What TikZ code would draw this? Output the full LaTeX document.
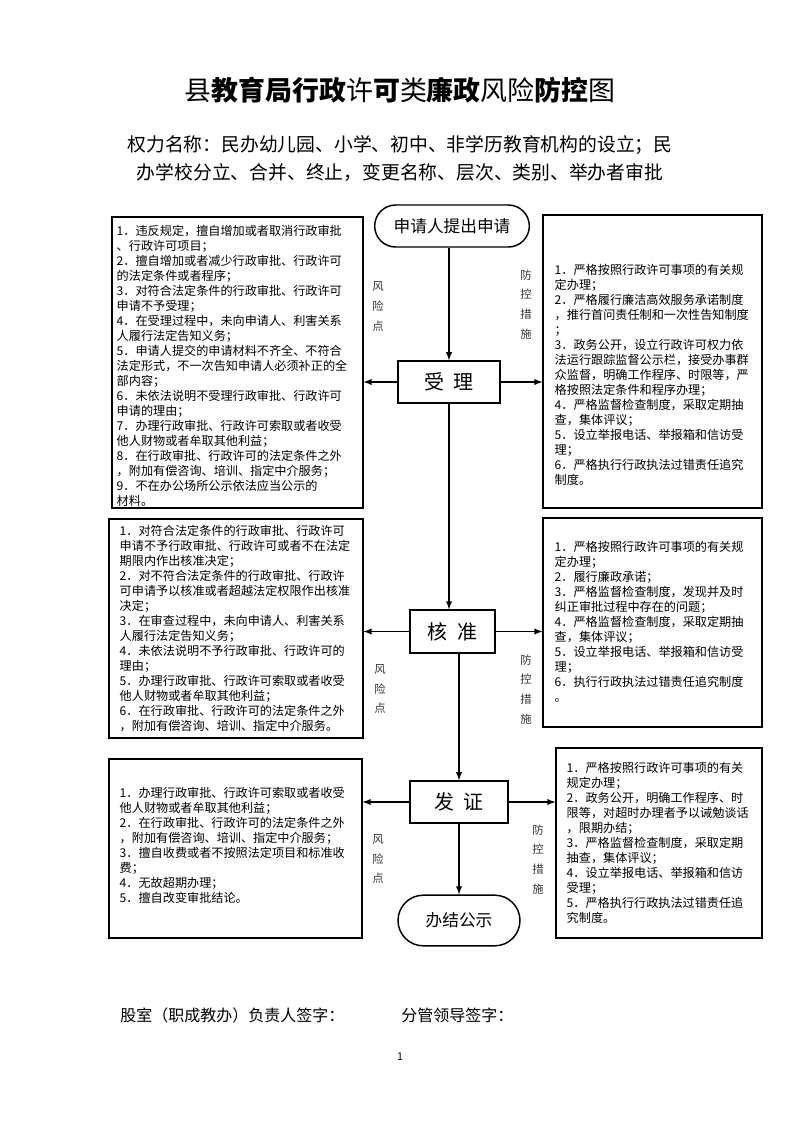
\documentclass[tikz,border=0pt]{standalone}
\usepackage{fontspec}
\setmainfont{Noto Sans CJK SC}
\usetikzlibrary{arrows,positioning,fit,shapes.misc}
\newcommand\tightlines{\lineskiplimit=-20pt\relax\lineskip=0pt\relax}

\begin{document}
\begin{tikzpicture}
		[x=0.75pt,y=-0.75pt,
		flow/.style={draw,line width=1.1pt,rectangle,inner sep=0pt,font=\fontsize{15pt}{18pt}\selectfont},
		ends/.style={draw,line width=1.1pt,rounded rectangle,inner sep=0pt,font=\fontsize{12.5pt}{15pt}\selectfont},
		itembox/.style={draw,line width=0.8pt,inner sep=0pt},
		items/.style={align=left,inner sep=0pt,anchor=west,
			font=\fontsize{9.1pt}{11.25pt}\selectfont\tightlines},
		side/.style={align=center,inner sep=0pt,text=black!80,
			font=\fontsize{8.5pt}{14.8pt}\selectfont\tightlines},
		arr/.style={-latex,line width=1.1pt}]
		\useasboundingbox (0,0) rectangle (800,1132);
		% title
		\node[font=\fontsize{20.2pt}{24pt}\selectfont] (title) at (400,90)
			{县\textbf{教育局行政}许\textbf{可}类\textbf{廉政}风险\textbf{防控}图};
		\node[align=center,font=\fontsize{14.1pt}{20.3pt}\selectfont\tightlines] (power) at (400,158.5)
			{权力名称：民办幼儿园、小学、初中、非学历教育机构的设立；民\\
			办学校分立、合并、终止，变更名称、层次、类别、举办者审批};
		% flow
		\node[ends,minimum width=116pt,minimum height=31.5pt] (apply) at (452,226) {申请人提出申请};
		\node[flow,minimum width=76.5pt,minimum height=31.5pt] (accept) at (449,382) {受\hspace{7pt}理};
		\node[flow,minimum width=64pt,minimum height=32pt] (check) at (452.5,631.5) {核\hspace{7pt}准};
		\node[flow,minimum width=73.5pt,minimum height=31.5pt] (issue) at (459,802) {发\hspace{7pt}证};
		\node[ends,minimum width=91.5pt,minimum height=38pt] (finish) at (459,920.5) {办结公示};
		% boxes
		\node[itembox,fit={(112,217) (363,508)}] (risk1) {};
		\node[itembox,fit={(543,215) (762,508)}] (measure1) {};
		\node[itembox,fit={(109,519) (363,738)}] (risk2) {};
		\node[itembox,fit={(543,518) (762,727)}] (measure2) {};
		\node[itembox,fit={(109,759) (362,938)}] (risk3) {};
		\node[itembox,fit={(556,748) (762,938)}] (measure3) {};
		\node[items] (risktext1) at ([shift={(5,3)}]risk1.west)
			{1．违反规定，擅自增加或者取消行政审批\\
			、行政许可项目；\\
			2．擅自增加或者减少行政审批、行政许可\\
			的法定条件或者程序；\\
			3．对符合法定条件的行政审批、行政许可\\
			申请不予受理；\\
			4．在受理过程中，未向申请人、利害关系\\
			人履行法定告知义务；\\
			5．申请人提交的申请材料不齐全、不符合\\
			法定形式，不一次告知申请人必须补正的全\\
			部内容；\\
			6．未依法说明不受理行政审批、行政许可\\
			申请的理由；\\
			7．办理行政审批、行政许可索取或者收受\\
			他人财物或者牟取其他利益；\\
			8．在行政审批、行政许可的法定条件之外\\
			，附加有偿咨询、培训、指定中介服务；\\
			9．不在办公场所公示依法应当公示的\\
			材料。};
		\node[items] (measuretext1) at ([shift={(12,13)}]measure1.west)
			{1．严格按照行政许可事项的有关规\\
			定办理；\\
			2．严格履行廉洁高效服务承诺制度\\
			，推行首问责任制和一次性告知制度\\
			；\\
			3．政务公开，设立行政许可权力依\\
			法运行跟踪监督公示栏，接受办事群\\
			众监督，明确工作程序、时限等，严\\
			格按照法定条件和程序办理；\\
			4．严格监督检查制度，采取定期抽\\
			查，集体评议；\\
			5．设立举报电话、举报箱和信访受\\
			理；\\
			6．严格执行行政执法过错责任追究\\
			制度。};
		\node[items] (risktext2) at ([shift={(11,0)}]risk2.west)
			{1．对符合法定条件的行政审批、行政许可\\
			申请不予行政审批、行政许可或者不在法定\\
			期限内作出核准决定；\\
			2．对不符合法定条件的行政审批、行政许\\
			可申请予以核准或者超越法定权限作出核准\\
			决定；\\
			3．在审查过程中，未向申请人、利害关系\\
			人履行法定告知义务；\\
			4．未依法说明不予行政审批、行政许可的\\
			理由；\\
			5．办理行政审批、行政许可索取或者收受\\
			他人财物或者牟取其他利益；\\
			6．在行政审批、行政许可的法定条件之外\\
			，附加有偿咨询、培训、指定中介服务。};
		\node[items] (measuretext2) at ([shift={(12,-1)}]measure2.west)
			{1．严格按照行政许可事项的有关规\\
			定办理；\\
			2．履行廉政承诺；\\
			3．严格监督检查制度，发现并及时\\
			纠正审批过程中存在的问题；\\
			4．严格监督检查制度，采取定期抽\\
			查，集体评议；\\
			5．设立举报电话、举报箱和信访受\\
			理；\\
			6．执行行政执法过错责任追究制度\\
			。};
		\node[items] (risktext3) at ([shift={(11,-3)}]risk3.west)
			{1．办理行政审批、行政许可索取或者收受\\
			他人财物或者牟取其他利益；\\
			2．在行政审批、行政许可的法定条件之外\\
			，附加有偿咨询、培训、指定中介服务；\\
			3．擅自收费或者不按照法定项目和标准收\\
			费；\\
			4．无故超期办理；\\
			5．擅自改变审批结论。};
		\node[items] (measuretext3) at ([shift={(11,0)}]measure3.west)
			{1．严格按照行政许可事项的有关\\
			规定办理；\\
			2．政务公开，明确工作程序、时\\
			限等，对超时办理者予以诫勉谈话\\
			，限期办结；\\
			3．严格监督检查制度，采取定期\\
			抽查，集体评议；\\
			4．设立举报电话、举报箱和信访\\
			受理；\\
			5．严格执行行政执法过错责任追\\
			究制度。};
		% side labels
		\node[side] (riskmark1) at (378,306.5) {风\\险\\点};
		\node[side] (guardmark1) at (526,304.5) {防\\控\\措\\施};
		\node[side] (riskmark2) at (380,689) {风\\险\\点};
		\node[side] (guardmark2) at (526,689.5) {防\\控\\措\\施};
		\node[side] (riskmark3) at (378,859) {风\\险\\点};
		\node[side] (guardmark3) at (538,859.5) {防\\控\\措\\施};
		% arrows
		\draw[arr] (apply.south -| accept.north) -- (accept.north);
		\draw[arr] (accept.west) -- (accept.west -| risk1.east);
		\draw[arr] (accept.east) -- (accept.east -| measure1.west);
		\draw[arr] (accept.south) -- (accept.south |- check.north);
		\draw[arr] (check.west) -- (check.west -| risk2.east);
		\draw[arr] (check.east) -- (check.east -| measure2.west);
		\draw[arr] (check.south -| issue.north) -- (issue.north);
		\draw[arr] (issue.west) -- (issue.west -| risk3.east);
		\draw[arr] (issue.east) -- (issue.east -| measure3.west);
		\draw[arr] (issue.south) -- (finish.north);
		% signatures
		\node[anchor=west,inner sep=0pt,font=\fontsize{12pt}{14pt}\selectfont] (sign1) at (120,1015) {股室（职成教办）负责人签字：};
		\node[anchor=west,inner sep=0pt,font=\fontsize{12pt}{14pt}\selectfont] (sign2) at (401,1015) {分管领导签字：};
		\node[font=\fontsize{8pt}{10pt}\selectfont] (pageno) at (400,1057) {1};
		\end{tikzpicture}
\end{document}
